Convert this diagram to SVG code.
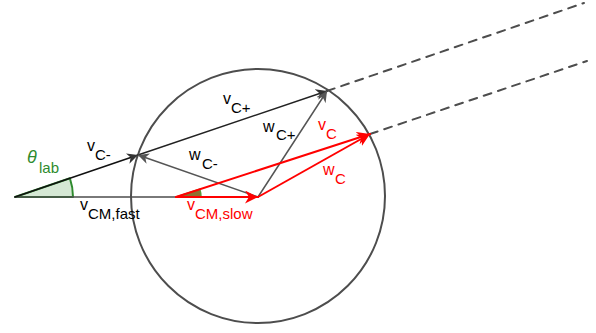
<svg xmlns="http://www.w3.org/2000/svg" width="596" height="333" viewBox="0 0 596 333">
<style>
text{font-family:"Liberation Sans",Arial,sans-serif;}
.v{font-size:16px;}
.s{font-size:15px;}
.k{fill:#000;}
.r{fill:#ff0000;}
.g{fill:#2e8b2e;}
.ln{fill:none;stroke-linecap:round;}
</style>
<defs>
<marker id="ak" viewBox="0 0 10 10" refX="10" refY="5" markerWidth="11" markerHeight="11" markerUnits="userSpaceOnUse" orient="auto"><path d="M0,0 L10,5 L0,10 L3,5 Z" fill="#333"/></marker>
<marker id="ag" viewBox="0 0 10 10" refX="10" refY="5" markerWidth="11" markerHeight="11" markerUnits="userSpaceOnUse" orient="auto"><path d="M0,0 L10,5 L0,10 L3,5 Z" fill="#555"/></marker>
<marker id="ar" viewBox="0 0 10 10" refX="10" refY="5" markerWidth="13" markerHeight="13" markerUnits="userSpaceOnUse" orient="auto"><path d="M0,0 L10,5 L0,10 L3,5 Z" fill="#ff0000"/></marker>
</defs>
<g id="circle"><circle cx="258" cy="196" r="127" fill="none" stroke="#4d4d4d" stroke-width="2"/></g>
<g id="angle-lab"><path d="M15,197 L73,197 A58,58 0 0 0 69.9,178.3 Z" fill="#d5e8d4" stroke="#2e8b2e" stroke-width="2" stroke-linejoin="round"/></g>
<g id="angle-slow"><path d="M176,197 L201,197 A25,25 0 0 0 199.8,189.3 Z" fill="#8f7030" stroke="#5a9a3a" stroke-width="1.5"/></g>
<g id="connectors">
<line class="ln" x1="327" y1="91" x2="584" y2="3" stroke="#4d4d4d" stroke-width="2" stroke-dasharray="8,7"/>
<line class="ln" x1="370" y1="134" x2="587" y2="61" stroke="#4d4d4d" stroke-width="2" stroke-dasharray="8,7"/>
<line class="ln" x1="15" y1="197" x2="258" y2="197" stroke="#4d4d4d" stroke-width="1.5"/>
<line class="ln" x1="15" y1="197" x2="138" y2="155" stroke="#111" stroke-width="1.5" marker-end="url(#ak)"/>
<line class="ln" x1="138" y1="155" x2="327" y2="91" stroke="#222" stroke-width="1.5" marker-end="url(#ak)"/>
<line class="ln" x1="258" y1="197" x2="138" y2="155" stroke="#555" stroke-width="1.5" marker-end="url(#ag)"/>
<line class="ln" x1="258" y1="197" x2="327" y2="91" stroke="#555" stroke-width="1.5" marker-end="url(#ag)"/>
<line class="ln" x1="176" y1="197" x2="258" y2="197" stroke="#ff0000" stroke-width="2" marker-end="url(#ar)"/>
<line class="ln" x1="176" y1="197" x2="370" y2="134" stroke="#ff0000" stroke-width="2" marker-end="url(#ar)"/>
<line class="ln" x1="258" y1="197" x2="370" y2="134" stroke="#ff0000" stroke-width="2" marker-end="url(#ar)"/>
</g>
<g id="labels">
<text class="g" x="27" y="163" font-size="18" font-style="italic">θ</text><text class="g s" x="39" y="173">lab</text>
<text class="k v" x="87" y="151">v</text><text class="k s" x="95" y="160">C-</text>
<text class="k v" x="223" y="104">v</text><text class="k s" x="231" y="113">C+</text>
<text class="k v" x="263" y="132">w</text><text class="k s" x="276" y="140">C+</text>
<text class="r v" x="318" y="130">v</text><text class="r s" x="326" y="139">C</text>
<text class="k v" x="189" y="160">w</text><text class="k s" x="202" y="169">C-</text>
<text class="r v" x="323" y="175">w</text><text class="r s" x="335" y="184">C</text>
<text class="k v" x="80" y="210">v</text><text class="k s" x="88" y="219">CM,fast</text>
<text class="r v" x="187" y="210">v</text><text class="r s" x="195" y="219">CM,slow</text>
</g>
</svg>
